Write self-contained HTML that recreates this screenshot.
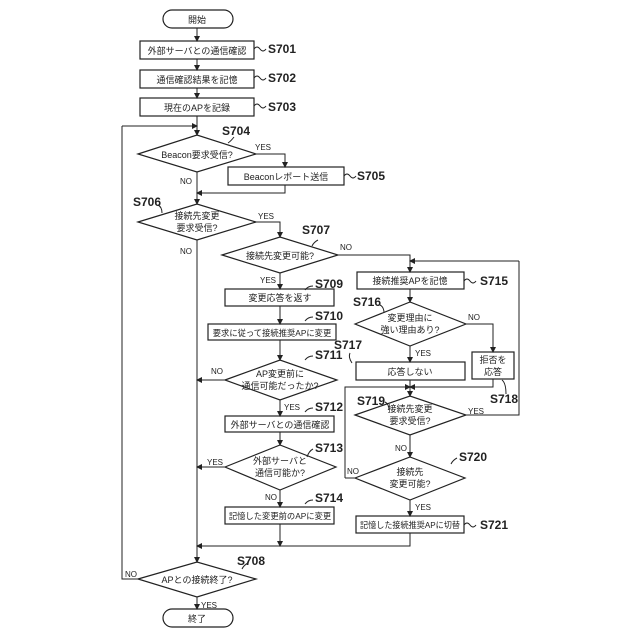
<!DOCTYPE html>
<html><head><meta charset="utf-8"><style>html,body{margin:0;padding:0;background:#fff}svg{display:block}</style></head><body>
<svg width="640" height="640" viewBox="0 0 640 640" xmlns="http://www.w3.org/2000/svg">
<defs><marker id="a" markerWidth="6" markerHeight="6" refX="5" refY="3" orient="auto" markerUnits="userSpaceOnUse"><path d="M0,0 L6,3 L0,6 z" fill="#222"/></marker></defs>
<g fill="none" stroke="#222" stroke-width="1.2">
<rect x="163" y="10" width="70" height="18" rx="9"/>
<rect x="140" y="41" width="114" height="18"/>
<rect x="140" y="70" width="114" height="18"/>
<rect x="140" y="98" width="114" height="18"/>
<polygon points="138,154 197,135 256,154 197,172"/>
<rect x="228" y="167" width="116" height="18"/>
<polygon points="138,222 197,204 256,222 197,240"/>
<polygon points="222,255 280,237 338,255 280,273"/>
<rect x="225" y="289" width="109" height="17"/>
<rect x="208" y="324" width="128" height="16"/>
<polygon points="225,380 280,360 337,380 280,400"/>
<rect x="225" y="416" width="109" height="16"/>
<polygon points="225,467 280,445 336,467 280,490"/>
<rect x="225" y="507" width="109" height="17"/>
<polygon points="138,579 197,562 256,579 197,597"/>
<rect x="163" y="609" width="70" height="18" rx="9"/>
<rect x="357" y="272" width="107" height="17"/>
<polygon points="355,324 410,302 466,324 410,346"/>
<rect x="472" y="352" width="42" height="27"/>
<rect x="356" y="362" width="109" height="18"/>
<polygon points="355,415 410,396 466,415 410,435"/>
<polygon points="355,478 410,457 465,478 410,500"/>
<rect x="356" y="516" width="108" height="17"/>
</g>
<g fill="none" stroke="#222" stroke-width="1">
<path d="M197,28 V41" marker-end="url(#a)"/>
<path d="M197,59 V70" marker-end="url(#a)"/>
<path d="M197,88 V98" marker-end="url(#a)"/>
<path d="M197,116 V135" marker-end="url(#a)"/>
<path d="M122,126 H197" marker-end="url(#a)"/>
<path d="M256,154 H285 V167" marker-end="url(#a)"/>
<path d="M285,185 V193 H197" marker-end="url(#a)"/>
<path d="M197,172 V204" marker-end="url(#a)"/>
<path d="M256,222 H280 V237" marker-end="url(#a)"/>
<path d="M197,240 V562" marker-end="url(#a)"/>
<path d="M280,273 V289" marker-end="url(#a)"/>
<path d="M280,306 V324" marker-end="url(#a)"/>
<path d="M280,340 V360" marker-end="url(#a)"/>
<path d="M225,380 H197" marker-end="url(#a)"/>
<path d="M280,400 V416" marker-end="url(#a)"/>
<path d="M280,432 V445" marker-end="url(#a)"/>
<path d="M225,467 H197" marker-end="url(#a)"/>
<path d="M280,490 V507" marker-end="url(#a)"/>
<path d="M280,524 V546" marker-end="url(#a)"/>
<path d="M410,533 V546 H197" marker-end="url(#a)"/>
<path d="M138,579 H122 V126"/>
<path d="M197,597 V609" marker-end="url(#a)"/>
<path d="M338,255 H410 V272" marker-end="url(#a)"/>
<path d="M519,261 H410" marker-end="url(#a)"/>
<path d="M410,289 V302" marker-end="url(#a)"/>
<path d="M466,324 H493 V352" marker-end="url(#a)"/>
<path d="M410,346 V362" marker-end="url(#a)"/>
<path d="M493,379 V387 H410" marker-end="url(#a)"/>
<path d="M345,478 V387 H410" marker-end="url(#a)"/>
<path d="M355,478 H345"/>
<path d="M410,380 V396" marker-end="url(#a)"/>
<path d="M466,415 H519 V261"/>
<path d="M410,435 V457" marker-end="url(#a)"/>
<path d="M410,500 V516" marker-end="url(#a)"/>
<path d="M254,49 q3,-4 6,0 t6,0"/><path d="M254,78 q3,-4 6,0 t6,0"/><path d="M254,106 q3,-4 6,0 t6,0"/>
<path d="M344,176 q3,-4 6,0 t6,0"/><path d="M464,281 q3,-4 6,0 t6,0"/><path d="M464,525 q3,-4 6,0 t6,0"/>
<path d="M228,143 q3,-2 6,-6"/><path d="M158,205 q4,2 4,8"/><path d="M318,240 q-4,2 -6,6"/>
<path d="M313,286 q-5,0 -8,4"/><path d="M313,317 q-5,0 -8,4"/><path d="M313,356 q-5,0 -8,4"/>
<path d="M313,408 q-5,0 -8,4"/><path d="M313,449 q-4,2 -6,8"/><path d="M313,500 q-5,0 -8,4"/>
<path d="M248,563 q-4,2 -6,6"/><path d="M380,305 q4,2 4,8"/><path d="M350,353 q-2,4 2,10"/>
<path d="M502,380 q4,3 4,14"/><path d="M385,402 q4,2 4,8"/><path d="M457,458 q-4,2 -6,6"/>
</g>
<g font-family="'Liberation Sans','Noto Sans CJK JP',sans-serif" font-size="9" fill="#222" text-anchor="middle">
<text x="197" y="23">開始</text>
<text x="197" y="54">外部サーバとの通信確認</text>
<text x="197" y="83">通信確認結果を記憶</text>
<text x="197" y="111">現在のAPを記録</text>
<text x="197" y="158">Beacon要求受信?</text>
<text x="286" y="180">Beaconレポート送信</text>
<text x="197" y="219">接続先変更</text><text x="197" y="231">要求受信?</text>
<text x="280" y="259">接続先変更可能?</text>
<text x="280" y="301">変更応答を返す</text>
<text x="272" y="336" font-size="8.3">要求に従って接続推奨APに変更</text>
<text x="280" y="377">AP変更前に</text><text x="280" y="389">通信可能だったか?</text>
<text x="280" y="428">外部サーバとの通信確認</text>
<text x="280" y="464">外部サーバと</text><text x="280" y="476">通信可能か?</text>
<text x="280" y="519" font-size="8.3">記憶した変更前のAPに変更</text>
<text x="197" y="583">APとの接続終了?</text>
<text x="197" y="622">終了</text>
<text x="410" y="284">接続推奨APを記憶</text>
<text x="410" y="321">変更理由に</text><text x="410" y="333">強い理由あり?</text>
<text x="493" y="363">拒否を</text><text x="493" y="375">応答</text>
<text x="410" y="375">応答しない</text>
<text x="410" y="412">接続先変更</text><text x="410" y="424">要求受信?</text>
<text x="410" y="475">接続先</text><text x="410" y="487">変更可能?</text>
<text x="410" y="528" font-size="8.3" textLength="100" lengthAdjust="spacingAndGlyphs">記憶した接続推奨APに切替</text>
</g>
<g font-family="'Liberation Sans',sans-serif" font-size="8" fill="#222">
<text x="255" y="150">YES</text><text x="180" y="184">NO</text>
<text x="258" y="219">YES</text><text x="180" y="254">NO</text>
<text x="340" y="250">NO</text><text x="260" y="283">YES</text>
<text x="211" y="374">NO</text><text x="284" y="410">YES</text>
<text x="207" y="465">YES</text><text x="265" y="500">NO</text>
<text x="125" y="577">NO</text><text x="201" y="608">YES</text>
<text x="468" y="320">NO</text><text x="415" y="356">YES</text>
<text x="468" y="414">YES</text><text x="395" y="451">NO</text>
<text x="347" y="474">NO</text><text x="415" y="510">YES</text>
</g>
<g font-family="'Liberation Sans',sans-serif" font-size="12" font-weight="bold" fill="#222">
<text x="268" y="53">S701</text><text x="268" y="82">S702</text><text x="268" y="111">S703</text>
<text x="222" y="135">S704</text><text x="357" y="180">S705</text><text x="133" y="206">S706</text>
<text x="302" y="234">S707</text><text x="315" y="288">S709</text><text x="315" y="320">S710</text>
<text x="315" y="359">S711</text><text x="315" y="411">S712</text><text x="315" y="452">S713</text>
<text x="315" y="502">S714</text><text x="237" y="565">S708</text>
<text x="480" y="285">S715</text><text x="353" y="306">S716</text><text x="334" y="349">S717</text>
<text x="490" y="403">S718</text><text x="357" y="405">S719</text><text x="459" y="461">S720</text>
<text x="480" y="529">S721</text>
</g>
</svg>
</body></html>
